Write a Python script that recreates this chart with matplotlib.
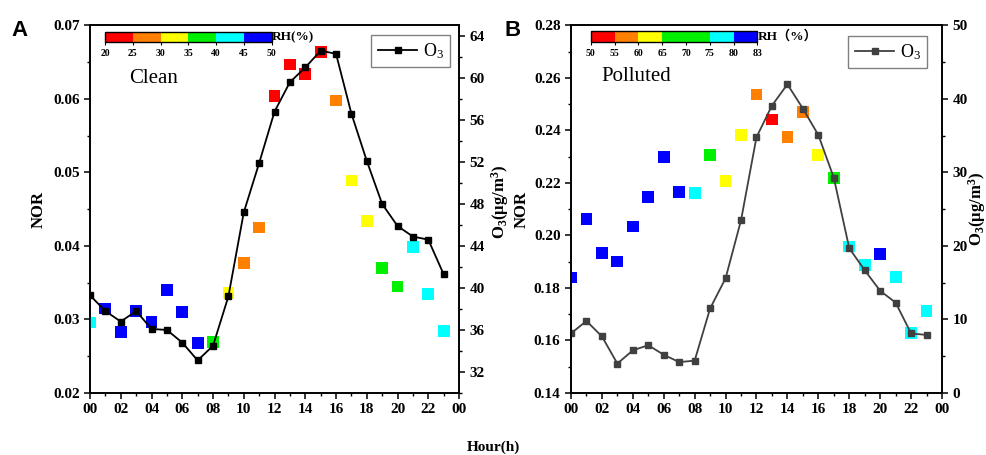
import matplotlib
matplotlib.use('Agg')
import matplotlib.pyplot as plt
from matplotlib.colors import ListedColormap, BoundaryNorm
from matplotlib.cm import ScalarMappable
from matplotlib.ticker import MultipleLocator

plt.rcParams['font.family'] = ['Liberation Serif', 'DejaVu Sans']
plt.rcParams['mathtext.default'] = 'regular'

# hourly data
hours = list(range(24))
hour_labels = ['00', '02', '04', '06', '08', '10', '12', '14', '16', '18', '20', '22', '00']

nor_clean = [0.0296, 0.0315, 0.0283, 0.0312, 0.0297, 0.0340, 0.0310, 0.0268,
             0.0269, 0.0336, 0.0377, 0.0425, 0.0604, 0.0647, 0.0634, 0.0664,
             0.0598, 0.0489, 0.0434, 0.0370, 0.0345, 0.0399, 0.0335, 0.0284]
o3_clean = [39.3, 37.8, 36.8, 37.8, 36.1, 36.0, 34.8, 33.1, 34.5, 39.2, 47.2, 51.9,
            56.8, 59.6, 61.0, 62.6, 62.3, 56.6, 52.1, 48.0, 45.9, 44.9, 44.6, 41.3]
rh_clean = [43, 47, 48, 47, 48, 47, 46, 47, 38, 33, 28, 26,
            23, 22, 22, 23, 26, 31, 33, 37, 39, 41, 43, 44]

nor_polluted = [0.1840, 0.2064, 0.1933, 0.1901, 0.2034, 0.2148, 0.2298, 0.2167,
                0.2162, 0.2308, 0.2209, 0.2382, 0.2537, 0.2442, 0.2374, 0.2470,
                0.2306, 0.2219, 0.1958, 0.1889, 0.1929, 0.1842, 0.1628, 0.1713]
o3_polluted = [8.1, 9.8, 7.7, 4.0, 5.8, 6.5, 5.2, 4.2, 4.4, 11.5, 15.6, 23.5,
               34.8, 39.1, 42.0, 38.7, 35.1, 29.3, 19.7, 16.7, 13.9, 12.3, 8.1, 7.9]
rh_polluted = [81, 82, 82, 82, 81, 81, 81, 80.5, 79, 72, 63, 61,
               57, 54, 56, 58, 62, 70, 77, 78, 80.5, 79, 78, 78]

rh_bounds_clean = [20, 25, 30, 35, 40, 45, 50]
rh_colors_clean = ['#ff0000', '#ff7f00', '#ffff00', '#00f000', '#00ffff', '#0000ff']
rh_bounds_polluted = [50, 55, 60, 65, 70, 75, 80, 83]
rh_colors_polluted = ['#ff0000', '#ff7f00', '#ffff00', '#00f000', '#00f000', '#00ffff', '#0000ff']

fig = plt.figure(figsize=(9.87, 4.55), dpi=100)

panels = [
    dict(rect=[0.0912, 0.1363, 0.3739, 0.8077], nor=nor_clean, o3=o3_clean, rh=rh_clean,
         bounds=rh_bounds_clean, colors=rh_colors_clean, ylim=(0.02, 0.07), ymaj=0.01,
         ymin=0.005, o3lim=(30, 65), o3min=2, o3ticks=range(32, 65, 4),
         lcolor='black', name='Clean', letter='A', letter_x=0.012, rh_label='RH(%)',
         cbar=[0.1064, 0.9084, 0.1689, 0.0207], leg=(0.976, 0.975),
         lab_left=-0.117, lab_right=1.081, lab_right_y=0.52, txt=(0.106, 0.857)),
    dict(rect=[0.5785, 0.1363, 0.3759, 0.8077], nor=nor_polluted, o3=o3_polluted, rh=rh_polluted,
         bounds=rh_bounds_polluted, colors=rh_colors_polluted, ylim=(0.14, 0.28), ymaj=0.02,
         ymin=0.01, o3lim=(0, 50), o3min=5, o3ticks=range(0, 51, 10),
         lcolor='#404040', name='Polluted', letter='B', letter_x=0.511, rh_label='RH（%）',
         cbar=[0.5985, 0.9084, 0.1688, 0.0230], leg=(0.960, 0.972),
         lab_left=-0.111, lab_right=1.065, lab_right_y=0.50, txt=(0.083, 0.86)),
]

for p in panels:
    ax = fig.add_axes(p['rect'])
    cmap = ListedColormap(p['colors'])
    norm = BoundaryNorm(p['bounds'], cmap.N)

    # NOR squares coloured by RH
    ax.scatter(hours, p['nor'], c=p['rh'], cmap=cmap, norm=norm, marker='s', s=72,
               linewidths=0, zorder=3)
    ax.set_xlim(0, 24)
    ax.set_xticks(range(0, 25, 2))
    ax.set_xticklabels(hour_labels)
    ax.xaxis.set_minor_locator(MultipleLocator(1))
    ax.yaxis.set_major_locator(MultipleLocator(p['ymaj']))
    ax.yaxis.set_minor_locator(MultipleLocator(p['ymin']))
    ax.set_ylim(*p['ylim'])
    ax.set_yticklabels(['{:.2f}'.format(v) for v in ax.get_yticks()])
    ax.set_ylim(*p['ylim'])
    ax.set_ylabel('NOR', fontsize=12, fontweight='bold')
    ax.yaxis.set_label_coords(p['lab_left'], 0.5)

    # O3 on right axis
    ax2 = ax.twinx()
    ax2.plot(hours, p['o3'], color=p['lcolor'], lw=1.3, marker='s', ms=4.2, label='O$_3$')
    ax2.set_ylim(*p['o3lim'])
    ax2.set_yticks(list(p['o3ticks']))
    ax2.yaxis.set_minor_locator(MultipleLocator(p['o3min']))
    ax2.set_ylabel('O$_3$(μg/m$^3$)', fontsize=12, fontweight='bold')
    ax2.yaxis.set_label_coords(p['lab_right'], p['lab_right_y'])

    for a in (ax, ax2):
        for s in a.spines.values():
            s.set_linewidth(1.2)
        a.tick_params(which='major', length=4, width=1.1, labelsize=11, direction='out')
        a.tick_params(which='minor', length=2.5, width=1.0, direction='out')
        for lab in a.get_xticklabels() + a.get_yticklabels():
            lab.set_fontweight('bold')

    leg = ax2.legend(loc='upper right', bbox_to_anchor=p['leg'], borderaxespad=0,
                     fontsize=13, fancybox=False, framealpha=1, handlelength=2.2,
                     handletextpad=0.3, borderpad=0.35)
    leg.get_frame().set_edgecolor('#808080')
    leg.get_frame().set_linewidth(1.0)

    ax.text(p['txt'][0], p['txt'][1], p['name'], transform=ax.transAxes, fontsize=15,
            va='center', ha='left')

    # RH colour bar
    cax = fig.add_axes(p['cbar'])
    cb = fig.colorbar(ScalarMappable(norm=norm, cmap=cmap), cax=cax, orientation='horizontal',
                      spacing='uniform', ticks=p['bounds'])
    cb.outline.set_linewidth(1.0)
    cax.tick_params(length=2.5, width=0.8, labelsize=7, pad=3)
    cax.set_xticklabels([str(b) for b in p['bounds']], fontweight='bold')
    cax.text(1.0, 0.5, p['rh_label'], transform=cax.transAxes, va='center', ha='left',
             fontsize=9.5, fontweight='bold',
             family=['Liberation Serif', 'Noto Sans CJK SC'])

    fig.text(p['letter_x'], 0.934, p['letter'], fontsize=16, fontweight='bold',
             family='Liberation Sans', va='center', ha='left')

fig.text(0.4995, 0.018, 'Hour(h)', fontsize=11, fontweight='bold', ha='center', va='center')

fig.savefig('out.png', dpi=100)
